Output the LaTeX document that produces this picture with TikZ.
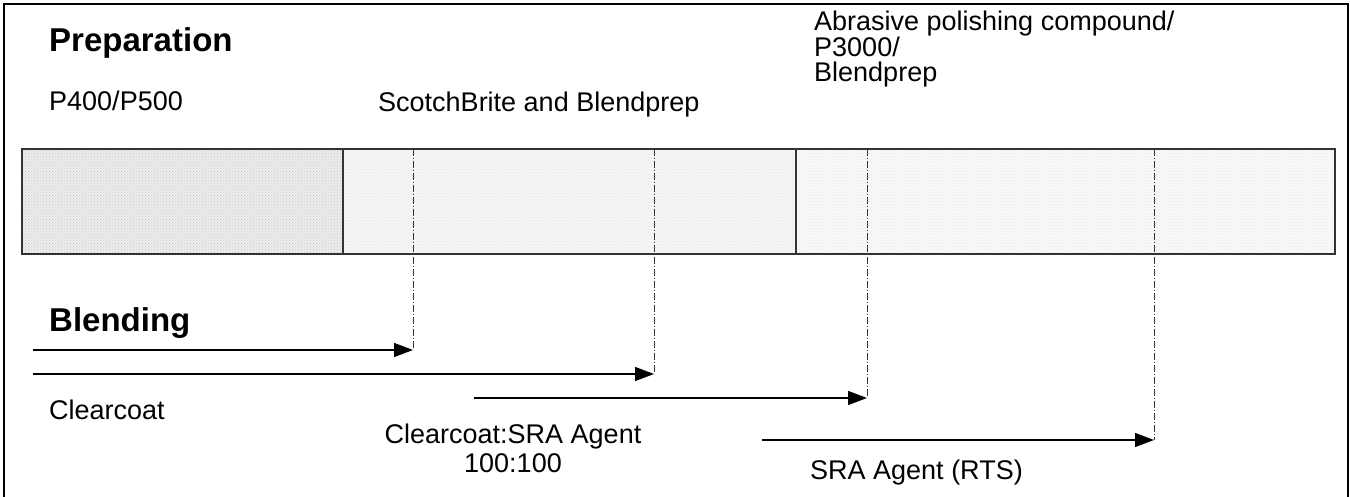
\documentclass[tikz,border=0pt]{standalone}
\usepackage{fontspec}
\setmainfont{Liberation Sans}
\usetikzlibrary{arrows.meta,patterns}
\tikzset{
  lbl/.style={inner sep=0pt,anchor=west,font=\fontsize{27}{24.5}\selectfont},
  head/.style={inner sep=0pt,anchor=west,font=\fontsize{33}{34}\selectfont\bfseries},
  seg/.style={draw=black!80,line width=1.1pt},
  guide/.style={black!80,line width=0.9pt,dash pattern=on 7pt off 2pt on 1pt off 2pt},
  step arrow/.style={line width=1.4pt,-{Triangle[length=19pt,width=14pt]}}
}
\begin{document}
\begin{tikzpicture}[x=1pt,y=-1pt]
      \useasboundingbox (0,0) rectangle (1350,497);
      \clip (0,0) rectangle (1350,497);
      % frame
      \draw[line width=2pt] (4,4) rectangle (1348,505);
      % bar
      \fill[gray!14] (22,149) rectangle (343,254);
      \fill[pattern=crosshatch dots,pattern color=gray!45] (22,149) rectangle (343,254);
      \fill[gray!8] (343,149) rectangle (796,254);
      \fill[pattern=dots,pattern color=gray!30] (343,149) rectangle (796,254);
      \fill[gray!4] (796,149) rectangle (1335,254);
      \fill[pattern=crosshatch dots,pattern color=gray!22] (796,149) rectangle (1335,254);
      \draw[seg] (22,149) rectangle (1335,254);
      \draw[seg] (343,149) -- (343,254);
      \draw[seg] (796,149) -- (796,254);
      % labels
      \draw
        (49,43) node[head] (prep){Preparation}
        (49,101) node[lbl] (p400){P400/P500}
        (378,105) node[lbl] (scotch){ScotchBrite and Blendprep}
        (814,49) node[lbl,align=left] (abras){Abrasive polishing compound/\\P3000/\\Blendprep}
        (49,323) node[head] (blend){Blending}
        (49,410) node[lbl] (cc){Clearcoat}
        (513,448) node[lbl,anchor=center,align=center,font=\fontsize{27}{29}\selectfont] (ccsra){Clearcoat:SRA Agent\\100:100}
        (810,473) node[lbl] (sra){SRA Agent (RTS)};
      % arrows
      \coordinate (s1) at (33,350);  \coordinate (e1) at (413,350);
      \coordinate (s2) at (33,374);  \coordinate (e2) at (654,374);
      \coordinate (s3) at (474,398); \coordinate (e3) at (867,398);
      \coordinate (s4) at (762,440); \coordinate (e4) at (1154,440);
      \coordinate (t1) at (413,149); \coordinate (t2) at (654,149);
      \coordinate (t3) at (867,149); \coordinate (t4) at (1154,149);
      \begin{scope}[guide]
        \draw (t1) to (e1);
        \draw (t2) to (e2);
        \draw (t3) to (e3);
        \draw (t4) to (e4);
      \end{scope}
      \begin{scope}[step arrow]
        \draw (s1) to (e1);
        \draw (s2) to (e2);
        \draw (s3) to (e3);
        \draw (s4) to (e4);
      \end{scope}
    \end{tikzpicture}
\end{document}
